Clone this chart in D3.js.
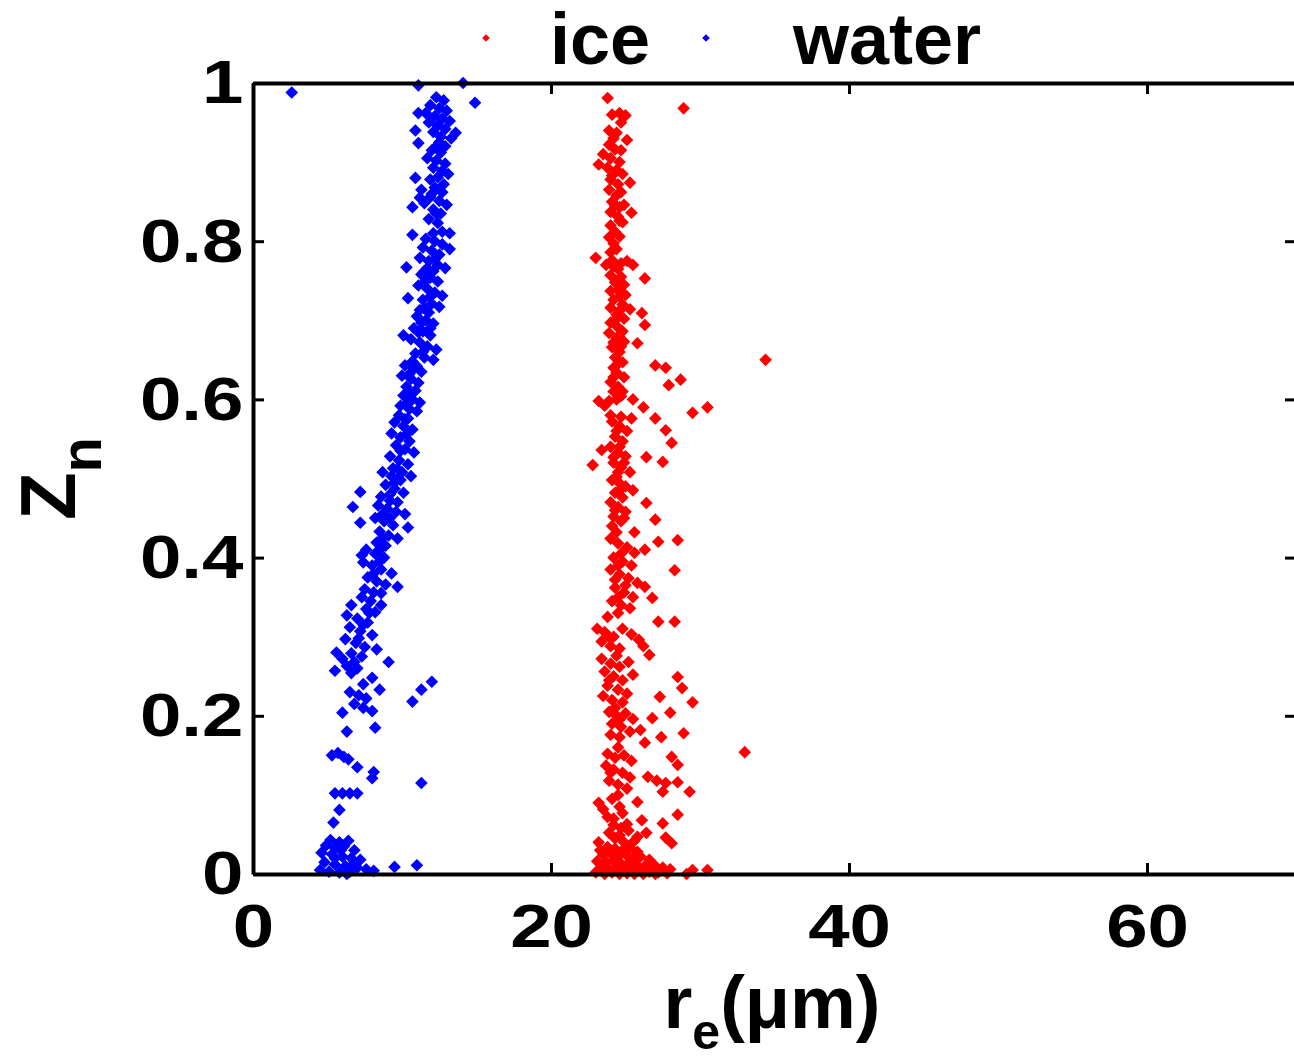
<!DOCTYPE html>
<html>
<head>
<meta charset="utf-8">
<script src="https://cdn.jsdelivr.net/npm/d3@7"></script>
<style>
  html, body { margin: 0; padding: 0; background: #fff; }
  svg { display: block; }
</style>
</head>
<body>
<div id="container"></div>
<script>
// effective radius (um) vs normalised height
const water = [
  [2.6,0.988],[11.1,0.997],[14.1,1.0],[14.9,0.975],
  [12.3,0.982],[12.8,0.978],[11.9,0.972],[12.5,0.968],[13.0,0.965],[11.6,0.962],[12.2,0.958],[12.7,0.955],
  [13.2,0.952],[11.8,0.95],[12.4,0.946],[12.9,0.942],[12.1,0.938],[12.6,0.932],
  [11.1,0.962],[10.9,0.94],[13.6,0.937],[11.1,0.924],[13.3,0.93],[12.5,0.925],[12.3,0.92],[12.9,0.92],
  [12.0,0.915],[12.6,0.912],[11.7,0.905],[12.3,0.902],[12.9,0.898],[12.1,0.893],[12.7,0.889],[13.1,0.885],
  [12.4,0.881],[11.9,0.878],[12.8,0.872],
  [10.9,0.88],[11.3,0.865],[10.7,0.843],
  [12.2,0.868],[12.7,0.862],[11.9,0.856],[12.5,0.851],[13.0,0.846],[12.1,0.84],[12.6,0.835],[11.8,0.828],
  [12.4,0.823],[11.5,0.848],[11.2,0.855],[12.0,0.86],[12.3,0.835],
  [10.7,0.808],[13.2,0.81],[13.2,0.79],[12.1,0.81],[12.7,0.812],
  [11.6,0.803],[12.2,0.8],[12.7,0.796],[11.4,0.792],[12.0,0.788],[12.5,0.783],[11.2,0.779],[11.8,0.775],
  [12.4,0.77],[12.9,0.766],[11.5,0.762],[10.3,0.767],[12.2,0.777],[11.7,0.766],[12.1,0.762],
  [11.3,0.758],[11.9,0.754],[12.4,0.749],[11.1,0.744],[11.7,0.74],[12.2,0.735],[12.7,0.731],[11.4,0.726],
  [12.0,0.721],[12.5,0.717],[11.2,0.713],[11.8,0.71],[10.4,0.728],[10.1,0.681],[11.6,0.75],[11.9,0.73],[11.5,0.715],
  [11.0,0.705],[11.6,0.7],[12.1,0.696],[10.8,0.69],[11.4,0.686],[11.9,0.681],[10.6,0.676],[11.2,0.672],
  [11.7,0.667],[12.3,0.663],[10.9,0.658],[11.5,0.653],[12.1,0.65],[10.7,0.648],
  [11.3,0.697],[11.9,0.69],[11.1,0.685],[11.4,0.66],
  [10.2,0.643],[10.8,0.639],[11.3,0.635],[10.0,0.63],[10.6,0.626],[11.1,0.621],[10.3,0.616],[10.9,0.611],
  [10.1,0.605],[10.7,0.6],[11.2,0.596],[9.9,0.592],[10.5,0.588],[11.0,0.585],
  [11.0,0.642],[10.5,0.632],[10.6,0.607],[10.4,0.596],
  [9.8,0.58],[10.4,0.576],[9.5,0.571],[10.1,0.566],[10.7,0.562],[9.3,0.557],[9.9,0.552],[10.5,0.547],
  [9.6,0.542],[10.2,0.537],[10.8,0.533],[9.2,0.528],[9.8,0.523],[10.4,0.518],[9.4,0.513],[10.0,0.508],
  [10.6,0.503],[9.7,0.5],[10.2,0.575],[10.3,0.556],[9.9,0.535],[9.7,0.512],
  [8.7,0.508],[9.3,0.503],[9.9,0.498],[8.9,0.492],[9.5,0.487],[10.1,0.482],[8.6,0.477],[9.2,0.472],
  [9.5,0.495],[9.2,0.48],[9.7,0.47],
  [7.2,0.483],[6.7,0.464],[7.2,0.444],
  [8.4,0.466],[9.0,0.462],[9.6,0.458],[10.2,0.455],[8.2,0.45],[8.8,0.446],[9.4,0.441],[10.4,0.438],
  [8.5,0.433],[9.1,0.428],[9.7,0.424],[8.3,0.419],[8.9,0.415],[7.3,0.403],[8.7,0.455],[9.2,0.45],[8.7,0.425],
  [7.6,0.41],[8.2,0.405],[8.8,0.4],[7.4,0.394],[8.0,0.39],[8.6,0.385],[9.3,0.38],[7.7,0.375],[8.3,0.37],
  [8.9,0.366],[7.5,0.36],[8.1,0.356],[9.7,0.363],[7.3,0.35],[7.9,0.345],[8.6,0.34],[7.6,0.335],[8.2,0.331],
  [6.6,0.34],[8.5,0.41],[8.5,0.395],[8.1,0.38],[8.6,0.355],
  [6.3,0.327],[7.0,0.323],[7.7,0.318],[6.5,0.312],[7.2,0.307],[8.0,0.302],[6.2,0.297],[6.9,0.292],
  [7.5,0.287],[8.3,0.284],[6.6,0.279],[7.3,0.275],[9.1,0.268],[7.8,0.33],[7.4,0.315],[7.1,0.298],
  [5.6,0.28],[6.0,0.272],[6.3,0.263],[5.5,0.257],[6.6,0.254],[7.0,0.26],[6.8,0.268],
  [8.0,0.248],[8.5,0.233],[12.0,0.243],[11.3,0.233],[10.7,0.218],[7.4,0.24],
  [6.5,0.23],[7.1,0.226],[7.6,0.222],[6.8,0.215],[7.4,0.21],[8.0,0.206],
  [6.0,0.204],[8.2,0.185],[6.3,0.18],
  [5.3,0.15],[5.7,0.153],[6.1,0.148],[6.4,0.145],
  [7.0,0.135],[8.1,0.129],[8.0,0.121],[11.3,0.115],
  [5.5,0.102],[6.0,0.102],[6.5,0.102],[7.0,0.102],[5.8,0.081],[5.4,0.065],
  [5.2,0.043],[5.8,0.04],[6.4,0.042],[4.9,0.036],[5.5,0.033],[6.1,0.035],[6.8,0.03],[4.6,0.027],[5.3,0.025],
  [6.0,0.022],[6.6,0.02],[7.2,0.018],[4.8,0.015],[5.5,0.012],[6.2,0.01],[7.0,0.008],[7.6,0.006],[4.5,0.005],
  [5.1,0.003],[5.8,0.002],[6.5,0.003],[8.1,0.004],[6.3,0.0],[5.5,0.02],[6.7,0.012],[5.9,0.03],
  [9.5,0.009],[11.0,0.011]
];

const ice = [
  [23.8,0.981],[28.9,0.968],[24.1,0.96],[24.6,0.962],[25.0,0.959],[24.4,0.937],[25.1,0.928],
  [24.7,0.95],[23.9,0.94],[24.2,0.93],[24.7,0.915],
  [23.9,0.922],[24.3,0.916],[23.5,0.91],[24.0,0.905],[24.6,0.9],[23.2,0.897],[23.8,0.893],[24.4,0.89],[24.8,0.885],
  [25.3,0.874],[24.1,0.883],[24.7,0.862],[24.3,0.845],[24.6,0.826],
  [24.0,0.878],[24.5,0.872],[23.9,0.865],[24.4,0.858],[24.1,0.85],[24.6,0.843],[24.0,0.837],[24.5,0.831],[24.9,0.846],
  [25.4,0.836],[24.8,0.824],
  [24.0,0.82],[24.3,0.812],[23.9,0.805],[24.2,0.797],[24.4,0.79],[24.0,0.786],[23.0,0.779],[24.6,0.806],[24.1,0.776],
  [23.7,0.77],[24.2,0.768],[24.7,0.772],[25.1,0.775],[25.5,0.77],[24.5,0.765],[26.3,0.753],[24.0,0.757],[24.7,0.755],
  [24.3,0.748],[24.9,0.745],[24.5,0.738],[25.0,0.732],[24.2,0.726],[24.8,0.72],[25.3,0.714],[24.4,0.707],[24.9,0.702],
  [24.0,0.737],[24.6,0.73],[24.0,0.716],[24.6,0.712],[24.3,0.7],
  [26.1,0.709],[26.3,0.694],
  [24.0,0.697],[24.5,0.691],[23.9,0.684],[24.4,0.678],[24.9,0.673],[24.1,0.666],[24.6,0.66],[24.3,0.653],[24.8,0.647],
  [24.2,0.64],[24.8,0.686],[24.2,0.672],[24.7,0.667],[24.5,0.645],
  [25.8,0.671],[27.0,0.643],[27.7,0.64],[27.9,0.618],[28.7,0.625],[34.4,0.65],
  [24.4,0.634],[24.9,0.628],[24.0,0.622],[24.5,0.616],[24.2,0.61],[24.7,0.604],[23.9,0.598],[23.2,0.598],[23.6,0.592],
  [24.2,0.628],[24.8,0.61],[24.4,0.6],
  [25.5,0.6],[26.2,0.59],[29.5,0.583],[30.5,0.59],
  [25.4,0.576],[27.0,0.576],[27.7,0.561],[28.1,0.545],[23.4,0.536],[22.8,0.517],
  [24.1,0.572],[24.6,0.566],[25.1,0.56],[24.3,0.553],[24.8,0.547],[24.0,0.54],[24.5,0.533],[25.0,0.528],[24.2,0.52],
  [24.7,0.514],[25.3,0.508],[24.4,0.502],[26.4,0.527],[27.5,0.521],
  [24.0,0.58],[24.7,0.578],[24.4,0.56],[24.6,0.54],[24.2,0.527],[24.9,0.52],[24.5,0.508],
  [24.1,0.498],[24.6,0.494],[25.0,0.49],[24.3,0.482],[24.8,0.476],[24.0,0.47],[24.5,0.464],[25.0,0.458],[24.2,0.452],
  [24.7,0.446],[24.1,0.44],[24.6,0.485],[24.3,0.46],[24.9,0.45],[24.4,0.432],
  [25.5,0.485],[26.4,0.469],[27.0,0.448],[25.6,0.432],[27.2,0.42],[28.5,0.422],[26.3,0.41],
  [24.0,0.424],[24.5,0.418],[25.1,0.413],[25.6,0.406],[24.2,0.4],[24.8,0.395],[25.4,0.39],[24.0,0.385],[24.6,0.379],
  [25.2,0.374],[25.8,0.368],[24.3,0.362],[24.9,0.356],[25.5,0.35],[24.1,0.345],[24.7,0.34],[25.3,0.336],
  [24.7,0.405],[24.5,0.39],[24.3,0.372],[25.0,0.365],[24.5,0.35],[24.5,0.33],[23.8,0.325],
  [28.3,0.384],[26.3,0.363],[26.8,0.349],[27.2,0.319],[28.3,0.319],
  [23.1,0.31],[23.6,0.306],[24.2,0.3],[23.4,0.294],[24.0,0.288],[24.6,0.285],[25.4,0.303],[25.9,0.296],[26.2,0.288],
  [26.6,0.277],[24.8,0.31],[23.9,0.3],[24.4,0.276],
  [23.4,0.272],[24.0,0.266],[24.6,0.262],[25.2,0.268],[23.6,0.256],[24.2,0.25],[24.8,0.245],[25.5,0.252],[23.8,0.238],
  [24.5,0.233],[25.1,0.228],[23.5,0.225],[24.1,0.22],[24.8,0.217],[23.9,0.245],
  [28.5,0.249],[28.8,0.235],[29.5,0.217],[27.3,0.224],
  [23.9,0.205],[24.4,0.2],[25.0,0.203],[25.5,0.196],[24.1,0.19],[24.7,0.186],[25.3,0.18],[24.0,0.176],[24.6,0.173],
  [24.3,0.21],[24.6,0.195],[24.5,0.16],
  [26.8,0.197],[28.0,0.204],[28.9,0.178],[27.4,0.173],[26.3,0.166],[26.0,0.182],[33.0,0.154],
  [23.8,0.152],[24.3,0.147],[24.9,0.15],[25.4,0.143],[23.7,0.137],[24.2,0.132],[24.8,0.128],[25.3,0.122],[23.9,0.118],
  [24.5,0.113],[25.1,0.108],[24.0,0.128],[24.5,0.1],[24.1,0.095],[24.6,0.085],[24.2,0.07],
  [28.1,0.148],[28.5,0.138],[26.5,0.123],[27.1,0.118],[27.7,0.115],[28.5,0.116],[29.3,0.104],[27.5,0.104],
  [25.8,0.091],[23.2,0.09],[23.5,0.082],[23.8,0.072],[24.8,0.077],[26.1,0.068],[27.5,0.064],[28.5,0.075],
  [26.4,0.052],[27.7,0.046],[28.1,0.039],[23.2,0.04],
  [24.2,0.062],[24.7,0.058],[25.2,0.055],[23.9,0.052],[24.6,0.049],[25.8,0.047],[25.1,0.063],
  [23.3,0.03],[23.8,0.034],[24.3,0.032],[24.8,0.03],[25.3,0.033],[25.8,0.028],[23.5,0.024],[24.0,0.026],[24.5,0.022],
  [25.0,0.025],[25.5,0.02],[26.0,0.022],[26.6,0.018],[23.1,0.016],[23.7,0.015],[24.2,0.017],[24.7,0.013],[25.2,0.014],
  [25.7,0.012],[26.3,0.01],[26.9,0.012],[27.5,0.008],[23.4,0.008],[23.9,0.006],[24.4,0.009],[24.9,0.005],[25.4,0.007],
  [26.0,0.004],[26.6,0.003],[27.2,0.002],[28.0,0.006],[23.0,0.002],[23.6,0.0],[24.1,0.002],[24.6,0.0],[25.1,0.001],
  [25.6,0.0],[26.2,0.0],[27.0,0.0],[27.8,0.001],[24.3,0.045],[24.9,0.04],[25.6,0.042],
  [29.5,0.005],[30.5,0.005],[29.1,0.0]
];

const xTicks = [0, 20, 40, 60];
const yTicks = [0, 0.2, 0.4, 0.6, 0.8, 1];
const yTickLabels = ['0', '0.2', '0.4', '0.6', '0.8', '1'];
const seriesNames = ['ice', 'water'];
const seriesColors = ['#ff0000', '#0000ff'];

const width = 1294;
const height = 1063;

const margins = {
  top: 83,
  bottom: 189,
  left: 253,
  right: -2
}

const font = '"Liberation Sans", Arial, sans-serif';

const svg = d3.select('#container')
  .append('svg')
  .attr('width', width)
  .attr('height', height)
  .attr('viewBox', [0, 0, width, height])

const x = d3.scaleLinear([0, 70], [margins.left, width - margins.right])
const y = d3.scaleLinear([0, 1], [height - margins.bottom, margins.top])

const marker = d3.symbol(d3.symbolSquare, 80)
const legendMarker = d3.symbol(d3.symbolSquare, 30)

// points
const groups = [ice, water]
groups.forEach((pts, i) => {
  svg.append('g')
    .selectAll('path')
    .data(pts)
    .join('path')
    .attr('d', marker)
    .attr('transform', d => `translate(${x(d[0])},${y(d[1])}) rotate(45)`)
    .style('fill', seriesColors[i])
})

// axes, ticks pointing in; the tick labels are drawn a bit wide like the source
const styleAxis = g => {
  g.select('.domain').attr('stroke-width', 4)
  g.selectAll('.tick line').attr('stroke-width', 3)
  g.selectAll('.tick text')
    .attr('transform', 'scale(1.2,1)')
    .style('font-family', font)
    .style('font-size', '62px')
    .style('font-weight', 'bold')
    .style('fill', '#000')
}

svg.append('g')
  .attr('transform', `translate(0,${y(0)})`)
  .call(d3.axisBottom(x).tickValues(xTicks).tickSizeInner(-11).tickSizeOuter(0).tickPadding(14))
  .call(styleAxis)
  .call(g => g.selectAll('.tick text').attr('dy', '0.95em'))

svg.append('g')
  .attr('transform', `translate(0,${y(1)})`)
  .call(d3.axisTop(x).tickValues(xTicks).tickSizeInner(-11).tickSizeOuter(0).tickFormat(''))
  .call(styleAxis)

svg.append('g')
  .attr('transform', `translate(${x(0)},0)`)
  .call(d3.axisLeft(y).tickValues(yTicks).tickSizeInner(-11).tickSizeOuter(0).tickPadding(8)
    .tickFormat((d, i) => yTickLabels[i]))
  .call(styleAxis)

svg.append('g')
  .attr('transform', `translate(${x(70)},0)`)
  .call(d3.axisRight(y).tickValues(yTicks).tickSizeInner(-11).tickSizeOuter(0).tickFormat(''))
  .call(styleAxis)

// axis titles
const xTitle = svg.append('text')
  .attr('x', 772)
  .attr('y', 1028)
  .attr('text-anchor', 'middle')
  .style('font-family', font)
  .style('font-size', '74px')
  .style('font-weight', 'bold')
xTitle.append('tspan').text('r')
xTitle.append('tspan').attr('dy', 21).style('font-size', '50px').text('e')
xTitle.append('tspan').attr('dy', -21).text('(\u03bcm)')

const yTitle = svg.append('text')
  .attr('transform', `translate(75,${(y(0) + y(1)) / 2}) rotate(-90)`)
  .attr('text-anchor', 'middle')
  .style('font-family', font)
  .style('font-size', '78px')
  .style('font-weight', 'bold')
yTitle.append('tspan').text('Z')
yTitle.append('tspan').attr('dy', 26).style('font-size', '58px').text('n')

// legend
const legendX = [486, 706]
const legendTextX = [550, 793]
const legend = svg.append('g')
  .selectAll('g')
  .data(seriesNames)
  .join('g')

legend.append('path')
  .attr('d', legendMarker)
  .attr('transform', (d, i) => `translate(${legendX[i]},38) rotate(45)`)
  .style('fill', (d, i) => seriesColors[i])

legend.append('text')
  .attr('x', (d, i) => legendTextX[i])
  .attr('y', 64)
  .style('font-family', font)
  .style('font-size', '72px')
  .style('font-weight', 'bold')
  .text(d => d)
</script>
</body>
</html>
